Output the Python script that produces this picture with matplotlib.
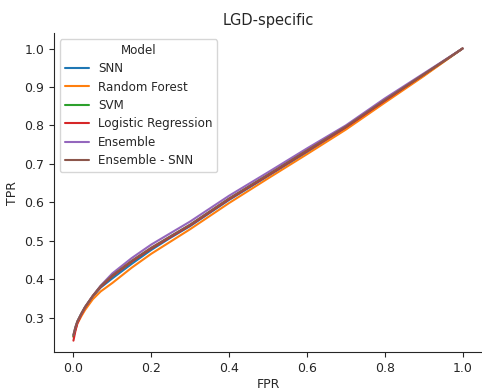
import numpy as np
import matplotlib
matplotlib.use("Agg")
import matplotlib.pyplot as plt
import seaborn as sns

# ROC curves per model, sampled on a shared FPR grid
fpr = [0.0, 0.005, 0.01, 0.02, 0.03, 0.05, 0.07, 0.1, 0.15, 0.2, 0.25, 0.3,
       0.4, 0.5, 0.6, 0.7, 0.8, 0.9, 1.0]

tpr_snn = [0.250, 0.270, 0.288, 0.308, 0.326, 0.355, 0.378, 0.402, 0.440, 0.476,
           0.508, 0.538, 0.606, 0.668, 0.730, 0.793, 0.862, 0.930, 1.0]
tpr_rf = [0.250, 0.268, 0.284, 0.303, 0.320, 0.348, 0.368, 0.390, 0.430, 0.466,
          0.498, 0.530, 0.598, 0.662, 0.725, 0.789, 0.859, 0.928, 1.0]
tpr_svm = [0.252, 0.272, 0.289, 0.309, 0.327, 0.356, 0.381, 0.408, 0.446, 0.480,
           0.511, 0.541, 0.609, 0.671, 0.734, 0.796, 0.865, 0.932, 1.0]
tpr_lr = [0.240, 0.265, 0.285, 0.307, 0.326, 0.356, 0.380, 0.408, 0.446, 0.480,
          0.510, 0.540, 0.608, 0.670, 0.733, 0.795, 0.864, 0.932, 1.0]
tpr_ens = [0.255, 0.275, 0.290, 0.310, 0.328, 0.357, 0.383, 0.415, 0.455, 0.490,
           0.520, 0.550, 0.617, 0.678, 0.740, 0.800, 0.870, 0.935, 1.0]
tpr_ens_snn = [0.255, 0.275, 0.290, 0.310, 0.328, 0.357, 0.382, 0.410, 0.448, 0.482,
               0.512, 0.542, 0.610, 0.672, 0.735, 0.797, 0.866, 0.933, 1.0]

models = ["SNN", "Random Forest", "SVM", "Logistic Regression", "Ensemble", "Ensemble - SNN"]
curves = [tpr_snn, tpr_rf, tpr_svm, tpr_lr, tpr_ens, tpr_ens_snn]

sns.set_style("ticks")
plt.rcParams["font.size"] = 9
fig, ax = plt.subplots(figsize=(4.82, 3.9), dpi=100)

for name, tpr in zip(models, curves):
    ax.plot(fpr, tpr, label=name, linewidth=1.5)

ax.set_title("LGD-specific", fontsize=10.5)
ax.set_xlabel("FPR", fontsize=9, labelpad=2)
ax.set_ylabel("TPR", fontsize=9)
ax.tick_params(labelsize=9)
ax.set_xlim(-0.05, 1.05)
ax.set_ylim(0.21, 1.04)
ax.set_xticks([0.0, 0.2, 0.4, 0.6, 0.8, 1.0])
ax.set_yticks([0.3, 0.4, 0.5, 0.6, 0.7, 0.8, 0.9, 1.0])
ax.legend(title="Model", loc="upper left", fontsize=8.6, title_fontsize=8.6,
          labelspacing=0.45)
sns.despine(ax=ax)

fig.subplots_adjust(left=0.112, right=1.0, bottom=0.097, top=0.915)
fig.savefig("out.png")
